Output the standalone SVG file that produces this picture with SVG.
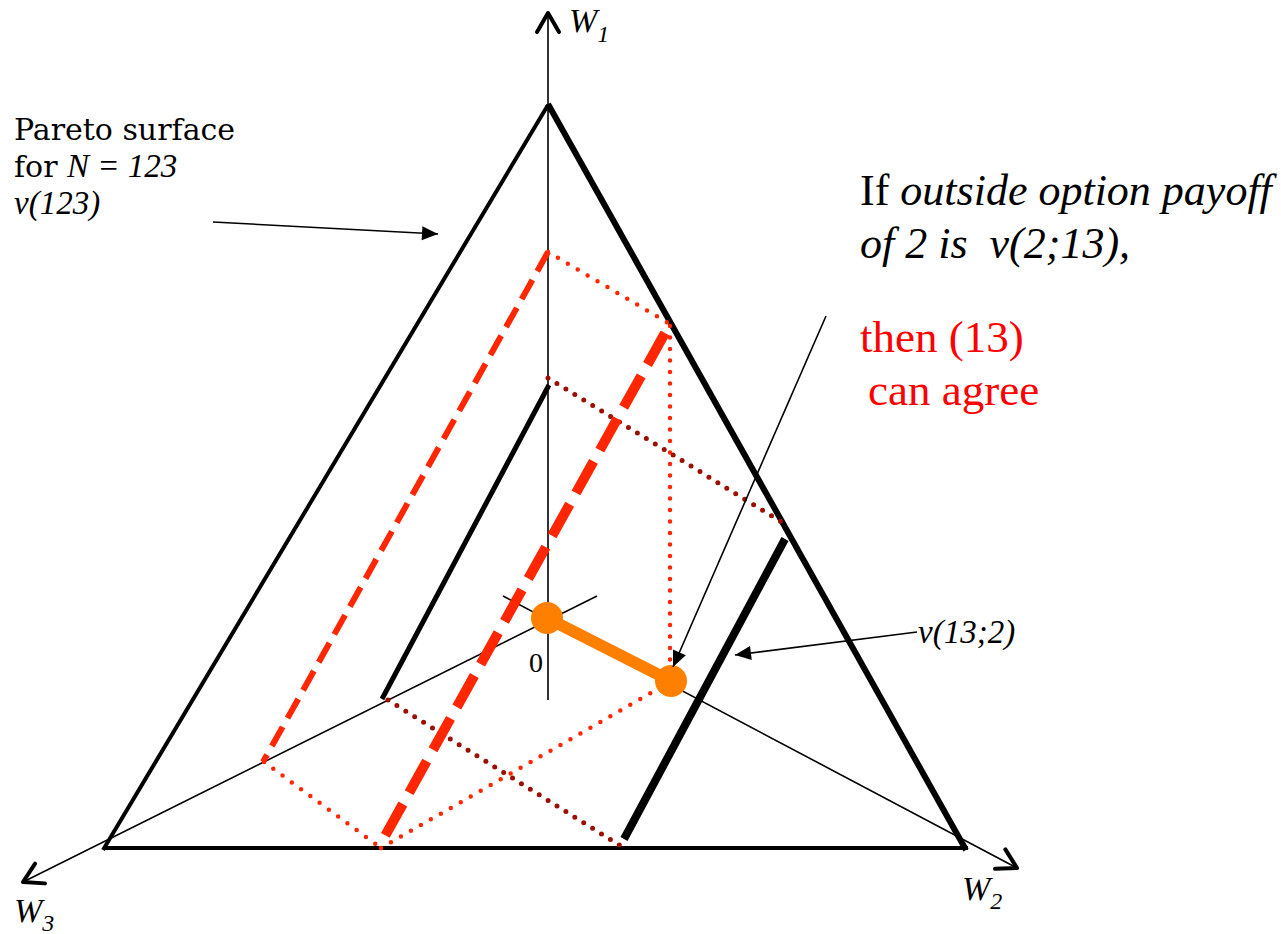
<svg xmlns="http://www.w3.org/2000/svg" width="1281" height="934" viewBox="0 0 1281 934">
<defs>
<marker id="chev" markerUnits="userSpaceOnUse" markerWidth="40" markerHeight="40" refX="0" refY="0" orient="auto" overflow="visible" viewBox="-30 -20 40 40">
<path d="M-19,-11 L0,0 L-19,11" fill="none" stroke="#000" stroke-width="4" stroke-linecap="round" stroke-linejoin="round"/>
</marker>
<marker id="tri" markerUnits="userSpaceOnUse" markerWidth="30" markerHeight="30" refX="0" refY="0" orient="auto" overflow="visible" viewBox="-20 -10 30 20">
<path d="M0,0 L-16,-7 L-16,7 Z" fill="#000"/>
</marker>
<style>
.axis{stroke:#000;stroke-width:1.6;fill:none}
.ann{stroke:#000;stroke-width:1.6;fill:none}
.dash1{stroke:#ff2600;stroke-width:6;stroke-dasharray:22 10;fill:none}
.dash2{stroke:#ff2600;stroke-width:10;stroke-dasharray:36 13;fill:none}
.dotr{stroke:#ff2600;stroke-width:4.5;stroke-dasharray:0 11.5;stroke-linecap:round;fill:none}
.dotd{stroke:#9a0f00;stroke-width:5;stroke-dasharray:0 10.5;stroke-linecap:round;fill:none}
.serif{font-family:"Liberation Serif","DejaVu Serif",serif}
.dserif{font-family:"DejaVu Serif","Liberation Serif",serif}
.it{font-style:italic}
</style>
</defs>
<rect width="1281" height="934" fill="#fff"/>
<g id="axes">
<line class="axis" x1="548" y1="700" x2="548" y2="13" marker-end="url(#chev)"/>
<line class="axis" x1="597" y1="596" x2="23" y2="882" marker-end="url(#chev)"/>
<line class="axis" x1="503" y1="596" x2="1017" y2="868" marker-end="url(#chev)"/>
</g>
<g id="triangle">
<line x1="548" y1="105" x2="103" y2="850" stroke="#000" stroke-width="4"/>
<line x1="548" y1="104" x2="966" y2="850" stroke="#000" stroke-width="6"/>
<line x1="104" y1="848" x2="968" y2="848" stroke="#000" stroke-width="4"/>
</g>
<g id="inner-lines">
<line x1="549" y1="385" x2="382" y2="699" stroke="#000" stroke-width="5"/>
<line x1="785" y1="539" x2="624" y2="839" stroke="#000" stroke-width="8"/>
</g>
<g id="dotted-lines">
<line class="dotr" x1="548" y1="252" x2="670" y2="324"/>
<line class="dotr" x1="670" y1="326" x2="670" y2="684"/>
<line class="dotr" x1="264" y1="762" x2="381" y2="848"/>
<line class="dotr" x1="381" y1="848" x2="670" y2="682"/>
<line class="dotd" x1="548" y1="378" x2="785" y2="524"/>
<line class="dotd" x1="388" y1="700" x2="624" y2="848"/>
</g>
<g id="dashed-lines">
<line class="dash1" x1="548" y1="252" x2="263" y2="762"/>
<line class="dash2" x1="665" y1="333" x2="380" y2="845"/>
</g>
<g id="segment">
<line x1="547" y1="618" x2="671" y2="681" stroke="#ff8000" stroke-width="12"/>
<circle cx="547" cy="618" r="16" fill="#ff8000"/>
<circle cx="671" cy="681" r="16" fill="#ff8000"/>
</g>
<g id="connectors">
<line class="ann" x1="213" y1="222" x2="438" y2="234" marker-end="url(#tri)"/>
<line class="ann" x1="826" y1="316" x2="673" y2="667" marker-end="url(#tri)"/>
<line class="ann" x1="917" y1="632" x2="735" y2="655" marker-end="url(#tri)"/>
</g>
<g id="labels">
<text class="serif" x="529" y="672" font-size="28">0</text>
<text class="serif it" x="569" y="32" font-size="34">W<tspan font-size="24" dy="10">1</tspan></text>
<text class="serif it" x="14" y="922" font-size="34">W<tspan font-size="24" dy="9">3</tspan></text>
<text class="serif it" x="962" y="900" font-size="34">W<tspan font-size="24" dy="9">2</tspan></text>
<text class="dserif" x="14" y="140" font-size="30">Pareto surface</text>
<text class="dserif" x="14" y="177" font-size="30">for <tspan class="serif it" font-size="33">N = 123</tspan></text>
<text class="serif it" x="14" y="214" font-size="33">v(123)</text>
<text class="serif" x="860" y="205" font-size="44">If <tspan class="it">outside option payoff</tspan></text>
<text class="serif it" x="860" y="258" font-size="44" xml:space="preserve">of 2 is  v(2;13),</text>
<text class="serif" x="860" y="352" font-size="45" fill="#ff0000">then (13)</text>
<text class="serif" x="868" y="405" font-size="45" fill="#ff0000">can agree</text>
<text class="serif it" x="918" y="643" font-size="33">v(13;2)</text>
</g>
</svg>
